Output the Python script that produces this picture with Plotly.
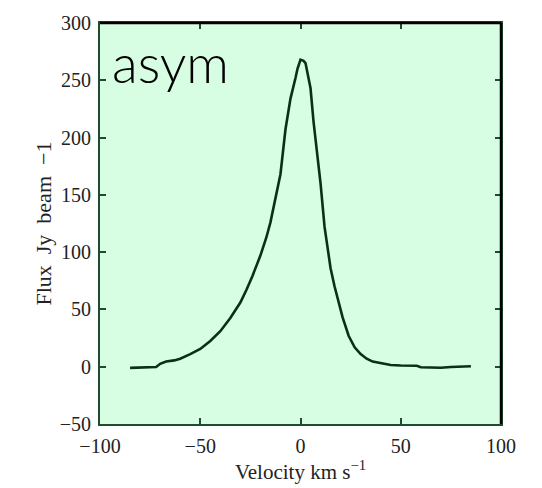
import plotly.graph_objects as go

# Integrated line profile
velocity = [-85, -80, -75, -72, -70, -67, -63, -60, -55, -50, -45, -40, -35, -30,
            -27, -24, -20, -17, -15, -12.5, -10, -7.5, -5, -2.5, -1.5, 0, 1.5, 2.5,
            4, 5, 6.5, 8, 10, 12, 15, 17, 19, 21, 24, 27, 30, 33, 36, 40, 45, 50,
            55, 58, 60, 65, 70, 75, 80, 85]
flux = [-1, -0.5, -0.5, -0.3, 2.5, 4.5, 5.5, 7, 11, 15.5, 22.5, 31, 42.5, 56,
        67, 79, 97, 113, 126, 146, 168, 207, 234, 252, 260, 268, 267, 265,
        252, 243, 214, 190, 160, 122, 86, 70, 56, 43, 27, 17, 11, 7, 4.5, 3, 1.5, 1,
        1.2, 0.8, -0.5, -0.8, -0.9, -0.3, 0.3, 0.4]

x_ticks = [-100, -50, 0, 50, 100]
y_ticks = [-50, 0, 50, 100, 150, 200, 250, 300]

line_col = "#0b2e18"
spine_col = "#1d4d2c"
text_col = "#222222"
serif = "Liberation Serif, DejaVu Serif, serif"
sp = "\u00a0\u00a0"

fig = go.Figure()
fig.add_trace(go.Scatter(x=velocity, y=flux, mode="lines",
                         line=dict(color=line_col, width=2.6),
                         showlegend=False, hoverinfo="skip"))

axis_common = dict(
    showgrid=False, zeroline=False,
    showline=True, linecolor=spine_col, linewidth=2, mirror="ticks",
    ticks="inside", ticklen=6, tickwidth=1.5, tickcolor=spine_col,
    tickfont=dict(family=serif, size=20, color=text_col),
)

fig.update_layout(
    width=542, height=488,
    margin=dict(l=100, r=41, t=19, b=60),
    paper_bgcolor="white", plot_bgcolor="#d7fde2",
    xaxis=dict(range=[-100, 100], tickvals=x_ticks, ticklabelstandoff=3,
               title=dict(text="Velocity km s<sup>−1</sup>", standoff=4,
                          font=dict(family=serif, size=21, color=text_col)),
               **axis_common),
    yaxis=dict(range=[-50, 300], tickvals=y_ticks, ticklabelstandoff=3,
               **axis_common),
    annotations=[
        dict(text=f"Flux{sp}Jy{sp}beam{sp}−1", textangle=-90,
             xref="paper", yref="paper",
             x=-0.142, y=0.5, xanchor="center", yanchor="middle", showarrow=False,
             font=dict(family=serif, size=22, color=text_col)),
        dict(text="asym", xref="paper", yref="paper", x=0.025, y=0.985,
             xanchor="left", yanchor="top", showarrow=False,
             font=dict(family="Lato, Open Sans, sans-serif", size=53,
                       weight=300, color="black")),
    ],
    shapes=[
        dict(type="line", xref="paper", yref="paper", x0=0, x1=1, y0=1, y1=1,
             line=dict(color="black", width=2.5)),
        dict(type="line", xref="paper", yref="paper", x0=1, x1=1, y0=0, y1=1,
             line=dict(color="black", width=2.5)),
    ],
)

fig.write_html("out.html")
